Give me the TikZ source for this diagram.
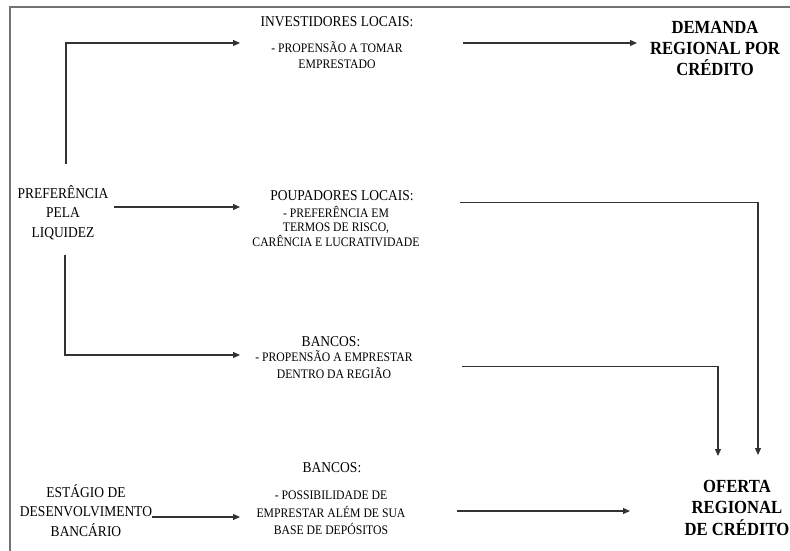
\documentclass[tikz,border=0pt]{standalone}
\usepackage{fontspec}
\setmainfont{Liberation Serif}
\newfontfamily\narrowserif[FakeStretch=0.9]{Liberation Serif}
\usetikzlibrary{arrows.meta}

\tikzset{
  flow/.style={draw=black!80, line width=1.2pt, -{Triangle[length=7pt,width=6pt]}},
  frame/.style={draw=black!55, line width=1.3pt},
  head/.style={font=\narrowserif\fontsize{15}{18}\selectfont, inner sep=0pt, anchor=base},
  body/.style={font=\narrowserif\fontsize{13}{16}\selectfont, inner sep=0pt, align=center, anchor=base},
  side/.style={font=\narrowserif\fontsize{15}{19.5}\selectfont, inner sep=0pt, align=center, anchor=base},
  goal/.style={font=\narrowserif\bfseries\fontsize{18.5}{21.5}\selectfont, inner sep=0pt, align=center, anchor=base},
}

\begin{document}
\begin{tikzpicture}[x=1pt,y=-1pt]
  \useasboundingbox (0,0) rectangle (790,551);
  \fill[white] (0,0) rectangle (790,551);
  \draw[frame] (10,551) -- (10,7) -- (790,7);

  % texts (placed at the baseline of their last line)
  \node[head] (inv) at (337,27) {INVESTIDORES LOCAIS:};
  \node[body] (invtxt) at (337,68.5) {- PROPENSÃO A TOMAR\\EMPRESTADO};
  \node[goal] (dem) at (715,76) {DEMANDA\\REGIONAL POR\\CRÉDITO};

  \node[side] (pref) at (63,237) {PREFERÊNCIA\\PELA\\LIQUIDEZ};
  \node[head] (poup) at (342,200) {POUPADORES LOCAIS:};
  \node[body] (pouptxt) at (336,246) {- PREFERÊNCIA EM\\[-1.5pt]TERMOS DE RISCO,\\[-1.5pt]CARÊNCIA E LUCRATIVIDADE};

  \node[head] (banc) at (331,346) {BANCOS:};
  \node[body] (banctxt) at (334,378) {- PROPENSÃO A EMPRESTAR\\[1pt]DENTRO DA REGIÃO};

  \node[head] (bancb) at (332,472) {BANCOS:};
  \node[body] (bancbtxt) at (331,534) {- POSSIBILIDADE DE\\[2pt]EMPRESTAR ALÉM DE SUA\\[1pt]BASE DE DEPÓSITOS};
  \node[side] (est) at (86,536) {ESTÁGIO DE\\DESENVOLVIMENTO\\BANCÁRIO};
  \node[goal] (ofe) at (737,535) {OFERTA\\REGIONAL\\DE CRÉDITO};

  % arrow ends
  \coordinate (invin) at (240,43);
  \coordinate (invout) at (463,43);
  \coordinate (demin) at (637,43);
  \coordinate (poupin) at (240,207);
  \coordinate (poupout) at (460,202.5);
  \coordinate (bancin) at (240,355);
  \coordinate (bancout) at (462,366.5);
  \coordinate (bancbin) at (240,517);
  \coordinate (bancbout) at (457,511);
  \coordinate (ofein1) at (718,456);
  \coordinate (ofein2) at (758,455);
  \coordinate (ofein3) at (630,511);

  % arrows
  \draw[flow, shorten <=21pt] ([xshift=3pt]pref.north) |- (invin);
  \draw[flow] (invout) -- (demin);
  \draw[flow, shorten <=5pt] (pref.east |- poupin) -- (poupin);
  \draw[flow] (poupout) -| (ofein2);
  \draw[flow, shorten <=15pt] ([xshift=2pt]pref.south) |- (bancin);
  \draw[flow] (bancout) -| (ofein1);
  \draw[flow] (est.east |- bancbin) -- (bancbin);
  \draw[flow] (bancbout) -- (ofein3);
\end{tikzpicture}
\end{document}
